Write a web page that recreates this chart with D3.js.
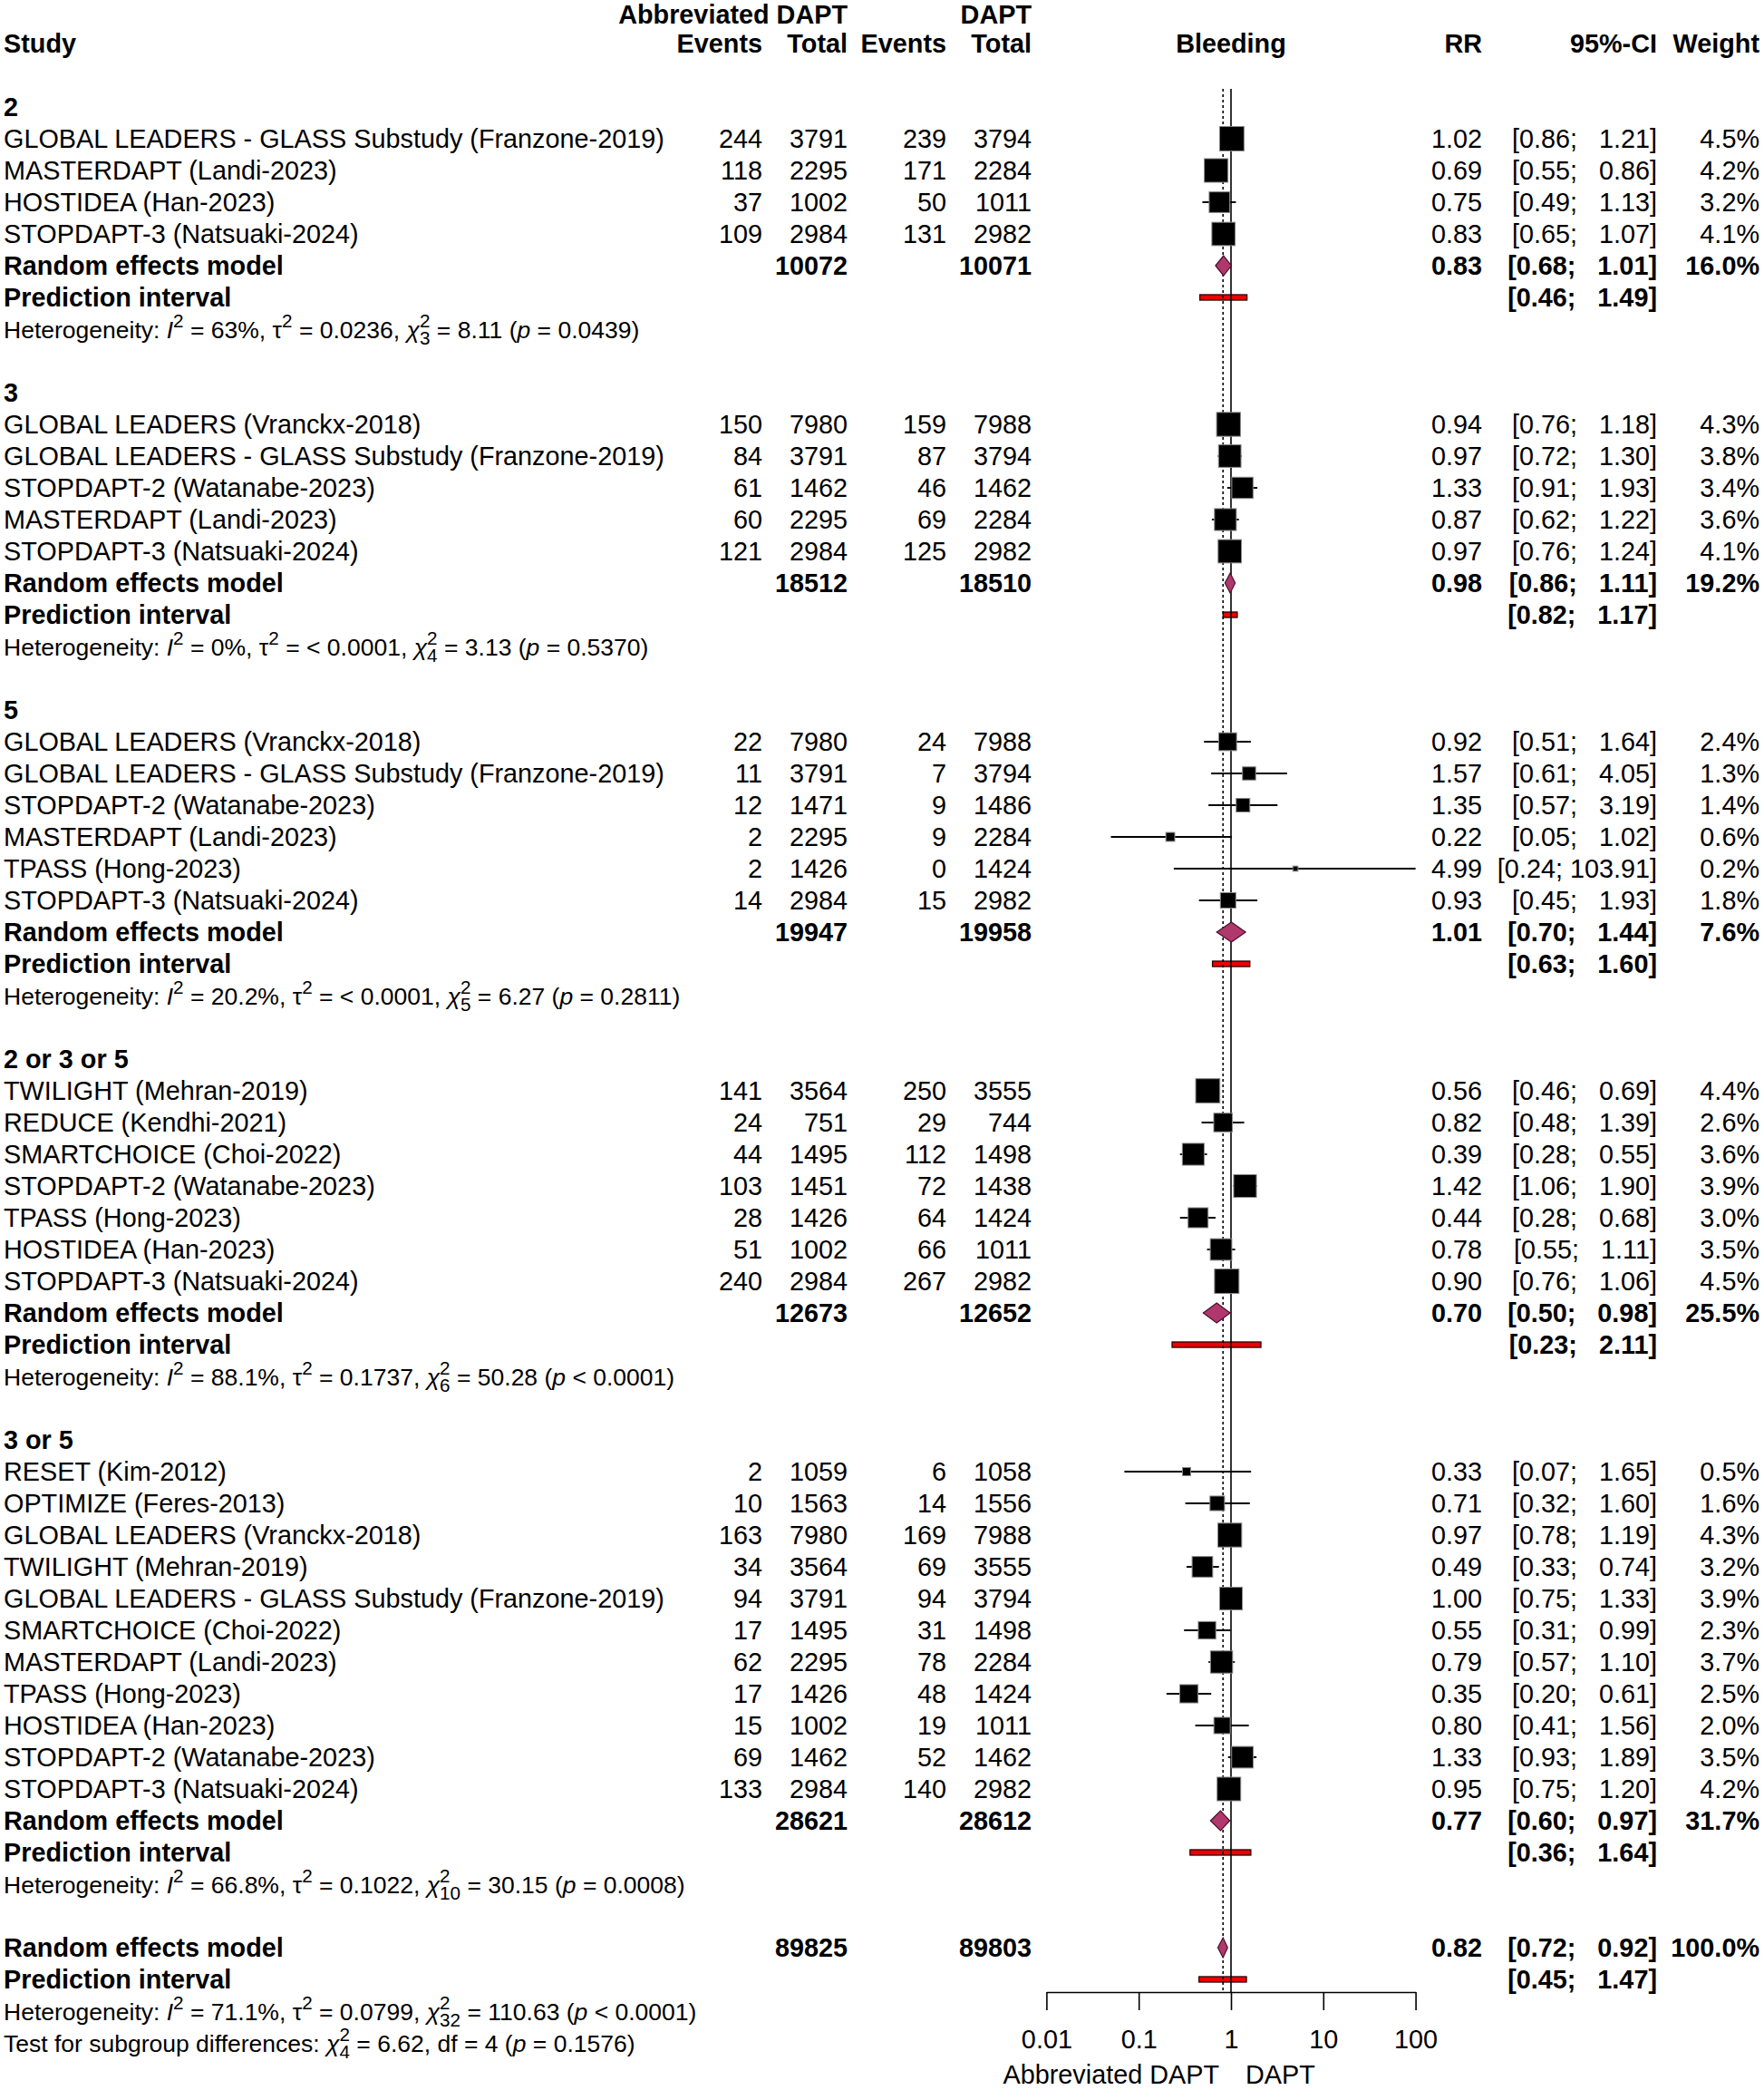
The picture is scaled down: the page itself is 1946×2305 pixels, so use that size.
<!DOCTYPE html>
<html><head><meta charset="utf-8">
<script src="https://cdn.jsdelivr.net/npm/d3@7"></script>
<style>
body{margin:0;background:#fff}
svg text{font-family:"Liberation Sans",Arial,Helvetica,sans-serif;fill:#000;white-space:pre}
</style>
</head><body>
<svg id="chart" width="1946" height="2305"></svg>
<script>
// ---------------- DATA ----------------
const subgroupNames = ["2", "3", "5", "2 or 3 or 5", "3 or 5"];
const studyGroup = [0,0,0,0, 1,1,1,1,1, 2,2,2,2,2,2, 3,3,3,3,3,3,3, 4,4,4,4,4,4,4,4,4,4,4];
const studyName = [
  "GLOBAL LEADERS - GLASS Substudy (Franzone-2019)","MASTERDAPT (Landi-2023)","HOSTIDEA (Han-2023)","STOPDAPT-3 (Natsuaki-2024)",
  "GLOBAL LEADERS (Vranckx-2018)","GLOBAL LEADERS - GLASS Substudy (Franzone-2019)","STOPDAPT-2 (Watanabe-2023)","MASTERDAPT (Landi-2023)","STOPDAPT-3 (Natsuaki-2024)",
  "GLOBAL LEADERS (Vranckx-2018)","GLOBAL LEADERS - GLASS Substudy (Franzone-2019)","STOPDAPT-2 (Watanabe-2023)","MASTERDAPT (Landi-2023)","TPASS (Hong-2023)","STOPDAPT-3 (Natsuaki-2024)",
  "TWILIGHT (Mehran-2019)","REDUCE (Kendhi-2021)","SMARTCHOICE (Choi-2022)","STOPDAPT-2 (Watanabe-2023)","TPASS (Hong-2023)","HOSTIDEA (Han-2023)","STOPDAPT-3 (Natsuaki-2024)",
  "RESET (Kim-2012)","OPTIMIZE (Feres-2013)","GLOBAL LEADERS (Vranckx-2018)","TWILIGHT (Mehran-2019)","GLOBAL LEADERS - GLASS Substudy (Franzone-2019)","SMARTCHOICE (Choi-2022)","MASTERDAPT (Landi-2023)","TPASS (Hong-2023)","HOSTIDEA (Han-2023)","STOPDAPT-2 (Watanabe-2023)","STOPDAPT-3 (Natsuaki-2024)"
];
const eventsAbbr = [244,118,37,109, 150,84,61,60,121, 22,11,12,2,2,14, 141,24,44,103,28,51,240, 2,10,163,34,94,17,62,17,15,69,133];
const totalAbbr  = [3791,2295,1002,2984, 7980,3791,1462,2295,2984, 7980,3791,1471,2295,1426,2984, 3564,751,1495,1451,1426,1002,2984, 1059,1563,7980,3564,3791,1495,2295,1426,1002,1462,2984];
const eventsDapt = [239,171,50,131, 159,87,46,69,125, 24,7,9,9,0,15, 250,29,112,72,64,66,267, 6,14,169,69,94,31,78,48,19,52,140];
const totalDapt  = [3794,2284,1011,2982, 7988,3794,1462,2284,2982, 7988,3794,1486,2284,1424,2982, 3555,744,1498,1438,1424,1011,2982, 1058,1556,7988,3555,3794,1498,2284,1424,1011,1462,2982];
const rr     = [1.02,0.69,0.75,0.83, 0.94,0.97,1.33,0.87,0.97, 0.92,1.57,1.35,0.22,4.99,0.93, 0.56,0.82,0.39,1.42,0.44,0.78,0.90, 0.33,0.71,0.97,0.49,1.00,0.55,0.79,0.35,0.80,1.33,0.95];
const ciLow  = [0.86,0.55,0.49,0.65, 0.76,0.72,0.91,0.62,0.76, 0.51,0.61,0.57,0.05,0.24,0.45, 0.46,0.48,0.28,1.06,0.28,0.55,0.76, 0.07,0.32,0.78,0.33,0.75,0.31,0.57,0.20,0.41,0.93,0.75];
const ciHigh = [1.21,0.86,1.13,1.07, 1.18,1.30,1.93,1.22,1.24, 1.64,4.05,3.19,1.02,103.91,1.93, 0.69,1.39,0.55,1.90,0.68,1.11,1.06, 1.65,1.60,1.19,0.74,1.33,0.99,1.10,0.61,1.56,1.89,1.20];
const weight = [4.5,4.2,3.2,4.1, 4.3,3.8,3.4,3.6,4.1, 2.4,1.3,1.4,0.6,0.2,1.8, 4.4,2.6,3.6,3.9,3.0,3.5,4.5, 0.5,1.6,4.3,3.2,3.9,2.3,3.7,2.5,2.0,3.5,4.2];

const pooledTotalAbbr = [10072,18512,19947,12673,28621];
const pooledTotalDapt = [10071,18510,19958,12652,28612];
const pooledRR   = [0.83,0.98,1.01,0.70,0.77];
const pooledLow  = [0.68,0.86,0.70,0.50,0.60];
const pooledHigh = [1.01,1.11,1.44,0.98,0.97];
const pooledWeight = [16.0,19.2,7.6,25.5,31.7];
const predLow  = [0.46,0.82,0.63,0.23,0.36];
const predHigh = [1.49,1.17,1.60,2.11,1.64];
const hetI2   = ["63%","0%","20.2%","88.1%","66.8%"];
const hetTau2 = ["0.0236","< 0.0001","< 0.0001","0.1737","0.1022"];
const hetDf   = ["3","4","5","6","10"];
const hetQ    = ["8.11","3.13","6.27","50.28","30.15"];
const hetP    = ["= 0.0439","= 0.5370","= 0.2811","< 0.0001","= 0.0008"];

const overallTotals = [89825, 89803];
const overallEst = [0.82, 0.72, 0.92];   // RR, low, high
const overallWeight = 100.0;
const overallPred = [0.45, 1.47];
const overallHet = ["71.1%", "0.0799", "32", "110.63", "< 0.0001"];
const subgroupTest = ["4", "6.62", "4", "= 0.1576"];

const tickValues = [0.01, 0.1, 1, 10, 100];
const tickLabels = ["0.01", "0.1", "1", "10", "100"];
const axisLabels = ["Abbreviated DAPT", "DAPT"];
const headerTop = ["Abbreviated DAPT", "DAPT"];
const headerCols = ["Study", "Events", "Total", "Events", "Total", "Bleeding", "RR", "95%-CI", "Weight"];

// ---------------- LAYOUT ----------------
const svg = d3.select("#chart");
const FS = 28.8, FSH = 26.5;
const y = d3.scaleLinear().domain([0, 64]).range([13, 2253]);
const x = d3.scaleLog().domain([0.01, 100]).range([1154.4, 1561.6]);
const col = {study: 4, evA: 841, totA: 935, evD: 1044, totD: 1138, rr: 1635, ci: 1828, w: 1941};
const axisY = 2197, refTop = 98;

const gText = svg.append("g");
function txt(xp, row, s, opts = {}) {
  const t = gText.append("text")
    .attr("x", xp).attr("y", y(row) + 0.36 * (opts.fs || FS) + (opts.dy || 0))
    .attr("font-size", opts.fs || FS)
    .attr("xml:space", "preserve")
    .attr("text-anchor", opts.anchor || "start")
    .text(s);
  if (opts.bold) t.attr("font-weight", "bold");
  return t;
}
const f2 = v => v.toFixed(2);
function ciStr(lo, hi) {
  const h = f2(hi);
  return "[" + f2(lo) + "; " + " ".repeat(Math.max(0, 6 - h.length)) + h + "]";
}
function richText(xp, row, items, fs) {
  let cx = xp, pending = 0;
  const base = y(row) + 0.36 * fs;
  items.forEach(it => {
    const size = it.shift ? fs * 0.78 : fs;
    const dy = it.shift === "sup" ? -fs * 0.42 : it.shift === "sub" ? fs * 0.3 : 0;
    const t = gText.append("text").attr("x", cx).attr("y", base + dy)
      .attr("font-size", size).attr("xml:space", "preserve").text(it.t);
    if (it.italic) t.attr("font-style", "italic");
    if (it.serif) t.attr("font-family", '"Liberation Serif","DejaVu Serif",serif');
    const w = t.node().getComputedTextLength();
    if (it.hold) pending = Math.max(pending, w);
    else { cx += Math.max(w, pending); pending = 0; }
  });
}
function hetItems(i2, tau2, df, q, p) {
  return [
    {t: "Heterogeneity: "}, {t: "I", italic: true}, {t: "2", shift: "sup"},
    {t: " = " + i2 + ", "}, {t: "τ", serif: true}, {t: "2", shift: "sup"},
    {t: " = " + tau2 + ", "}, {t: "χ", serif: true, italic: true}, {t: "2", shift: "sup", hold: true}, {t: df, shift: "sub"},
    {t: " = " + q + " ("}, {t: "p", italic: true}, {t: " " + p + ")"}
  ];
}

// ---------------- ROWS ----------------
const studyRows = [], pooledRows = [], predRows = [];
let row = 3;
subgroupNames.forEach((g, gi) => {
  txt(col.study, row, g, {bold: true});
  row++;
  studyGroup.forEach((sg, i) => {
    if (sg !== gi) return;
    studyRows.push({i, row});
    txt(col.study, row, studyName[i]);
    txt(col.evA, row, String(eventsAbbr[i]), {anchor: "end"});
    txt(col.totA, row, String(totalAbbr[i]), {anchor: "end"});
    txt(col.evD, row, String(eventsDapt[i]), {anchor: "end"});
    txt(col.totD, row, String(totalDapt[i]), {anchor: "end"});
    txt(col.rr, row, f2(rr[i]), {anchor: "end"});
    txt(col.ci, row, ciStr(ciLow[i], ciHigh[i]), {anchor: "end"});
    txt(col.w, row, weight[i].toFixed(1) + "%", {anchor: "end"});
    row++;
  });
  txt(col.study, row, "Random effects model", {bold: true});
  txt(col.totA, row, String(pooledTotalAbbr[gi]), {anchor: "end", bold: true});
  txt(col.totD, row, String(pooledTotalDapt[gi]), {anchor: "end", bold: true});
  txt(col.rr, row, f2(pooledRR[gi]), {anchor: "end", bold: true});
  txt(col.ci, row, ciStr(pooledLow[gi], pooledHigh[gi]), {anchor: "end", bold: true});
  txt(col.w, row, pooledWeight[gi].toFixed(1) + "%", {anchor: "end", bold: true});
  pooledRows.push({est: pooledRR[gi], lo: pooledLow[gi], hi: pooledHigh[gi], row});
  row++;
  txt(col.study, row, "Prediction interval", {bold: true});
  txt(col.ci, row, ciStr(predLow[gi], predHigh[gi]), {anchor: "end", bold: true});
  predRows.push({lo: predLow[gi], hi: predHigh[gi], row});
  row++;
  richText(col.study, row, hetItems(hetI2[gi], hetTau2[gi], hetDf[gi], hetQ[gi], hetP[gi]), FSH);
  row += 2;
});
// overall
txt(col.study, row, "Random effects model", {bold: true});
txt(col.totA, row, String(overallTotals[0]), {anchor: "end", bold: true});
txt(col.totD, row, String(overallTotals[1]), {anchor: "end", bold: true});
txt(col.rr, row, f2(overallEst[0]), {anchor: "end", bold: true});
txt(col.ci, row, ciStr(overallEst[1], overallEst[2]), {anchor: "end", bold: true});
txt(col.w, row, overallWeight.toFixed(1) + "%", {anchor: "end", bold: true});
pooledRows.push({est: overallEst[0], lo: overallEst[1], hi: overallEst[2], row});
row++;
txt(col.study, row, "Prediction interval", {bold: true});
txt(col.ci, row, ciStr(overallPred[0], overallPred[1]), {anchor: "end", bold: true});
predRows.push({lo: overallPred[0], hi: overallPred[1], row});
row++;
richText(col.study, row, hetItems(...overallHet), FSH);
row++;
richText(col.study, row, [
  {t: "Test for subgroup differences: "}, {t: "χ", serif: true, italic: true},
  {t: "2", shift: "sup", hold: true}, {t: subgroupTest[0], shift: "sub"},
  {t: " = " + subgroupTest[1] + ", df = " + subgroupTest[2] + " ("}, {t: "p", italic: true}, {t: " " + subgroupTest[3] + ")"}
], FSH);

// headers
txt(col.totA, 0, headerTop[0], {anchor: "end", bold: true, dy: 3});
txt(col.totD, 0, headerTop[1], {anchor: "end", bold: true, dy: 3});
txt(col.study, 1, headerCols[0], {bold: true});
txt(col.evA, 1, headerCols[1], {anchor: "end", bold: true});
txt(col.totA, 1, headerCols[2], {anchor: "end", bold: true});
txt(col.evD, 1, headerCols[3], {anchor: "end", bold: true});
txt(col.totD, 1, headerCols[4], {anchor: "end", bold: true});
txt(x(1), 1, headerCols[5], {anchor: "middle", bold: true});
txt(col.rr, 1, headerCols[6], {anchor: "end", bold: true});
txt(col.ci, 1, headerCols[7], {anchor: "end", bold: true});
txt(col.w, 1, headerCols[8], {anchor: "end", bold: true});

// ---------------- PLOT ----------------
const gPlot = svg.append("g");
const clip = v => Math.min(Math.max(v, 0.01), 100);
// prediction intervals
gPlot.selectAll("rect.pred").data(predRows).join("rect")
  .attr("x", d => x(d.lo)).attr("width", d => x(d.hi) - x(d.lo))
  .attr("y", d => y(d.row) - 3).attr("height", 6)
  .attr("fill", "#ee0000").attr("stroke", "#2a0000").attr("stroke-width", 1.3);
// reference lines
gPlot.append("line").attr("x1", x(1)).attr("x2", x(1)).attr("y1", refTop).attr("y2", axisY)
  .attr("stroke", "#000").attr("stroke-width", 1.6);
gPlot.append("line").attr("x1", x(overallEst[0])).attr("x2", x(overallEst[0])).attr("y1", refTop).attr("y2", axisY)
  .attr("stroke", "#000").attr("stroke-width", 1.6).attr("stroke-dasharray", "3,3");
// CI lines
gPlot.selectAll("line.ci").data(studyRows).join("line")
  .attr("x1", d => x(clip(ciLow[d.i]))).attr("x2", d => x(clip(ciHigh[d.i])))
  .attr("y1", d => y(d.row)).attr("y2", d => y(d.row))
  .attr("stroke", "#000").attr("stroke-width", 1.8);
// squares
const sq = w => 12.7 * Math.sqrt(w);
gPlot.selectAll("rect.sq").data(studyRows).join("rect")
  .attr("x", d => x(rr[d.i]) - sq(weight[d.i]) / 2).attr("y", d => y(d.row) - sq(weight[d.i]) / 2)
  .attr("width", d => sq(weight[d.i])).attr("height", d => sq(weight[d.i]))
  .attr("fill", "#000").attr("stroke", "#8a8a8a").attr("stroke-width", 1);
// diamonds
gPlot.selectAll("path.dia").data(pooledRows).join("path")
  .attr("d", d => {
    const yc = y(d.row), h = 11;
    return `M${x(d.lo)},${yc}L${x(d.est)},${yc - h}L${x(d.hi)},${yc}L${x(d.est)},${yc + h}Z`;
  })
  .attr("fill", "#b0386c").attr("stroke", "#4a0f2c").attr("stroke-width", 1.2);

// axis
const axis = d3.axisBottom(x).tickValues(tickValues).tickFormat((d, i) => tickLabels[i])
  .tickSize(20).tickSizeOuter(0).tickPadding(22);
const gAxis = svg.append("g").attr("transform", `translate(0,${axisY})`).call(axis);
gAxis.select(".domain").attr("stroke", "#000").attr("stroke-width", 1.6);
gAxis.selectAll(".tick line").attr("stroke", "#000").attr("stroke-width", 1.6);
gAxis.selectAll(".tick text").attr("font-size", FS).attr("fill", "#000")
  .attr("font-family", '"Liberation Sans",Arial,sans-serif');
txt(x(1) - 13, 65, axisLabels[0], {anchor: "end"});
txt(x(1) + 16, 65, axisLabels[1]);
</script>
</body></html>
